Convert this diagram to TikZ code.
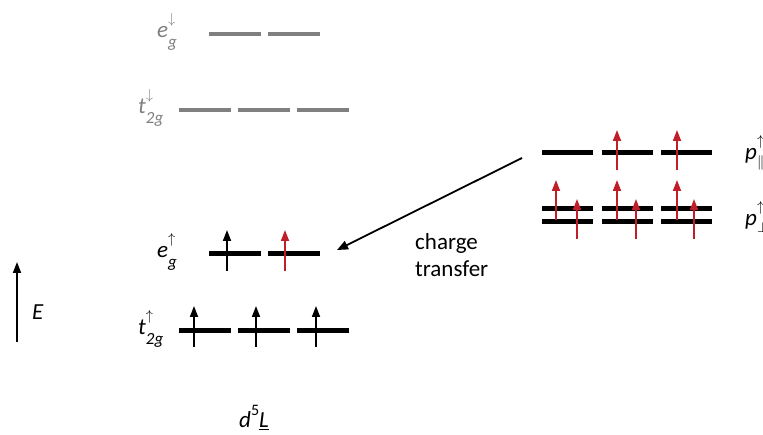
\documentclass[tikz,border=0pt]{standalone}
\usepackage{fontspec}
\setmainfont{Carlito}
\usetikzlibrary{arrows.meta}
\definecolor{lvlgray}{RGB}{128,128,128}
\definecolor{spinred}{RGB}{192,30,40}
\newcommand\mylbl[3]{\textit{#1}\makebox[0pt][l]{\raisebox{-0.42em}{\fontsize{17}{17}\selectfont\textit{#2}}}\makebox[0pt][l]{\raisebox{0.62em}{\fontsize{15}{15}\selectfont$#3$}}}
\begin{document}
\begin{tikzpicture}[x=1pt,y=-1pt,
  lvl/.style={line width=5pt},
  lvlg/.style={line width=4pt, draw=lvlgray},
  spin/.style={-{Triangle[length=11pt,width=8pt]}, line width=1.7pt},
  rspin/.style={spin, draw=spinred, fill=spinred},
  txt/.style={font=\fontsize{23}{27}\selectfont, inner sep=0pt},
]
\useasboundingbox (0,0) rectangle (763,435);
\fill[white] (0,0) rectangle (763,435);

% minority levels (gray)
\draw[lvlg] (209,34) -- (261,34);
\draw[lvlg] (268,34) -- (320,34);
\draw[lvlg] (179,110) -- (231,110);
\draw[lvlg] (238,110) -- (290,110);
\draw[lvlg] (297,110) -- (349,110);
\node[txt, text=lvlgray, anchor=base west] (egd) at (157,38) {\mylbl{e}{g}{\downarrow}};
\node[txt, text=lvlgray, anchor=base west] (tgd) at (138,114) {\mylbl{t}{2g}{\downarrow}};

% majority levels
\draw[lvl] (209,254) -- (261,254);
\draw[lvl] (268,254) -- (320,254);
\draw[lvl] (179,331) -- (231,331);
\draw[lvl] (238,331) -- (290,331);
\draw[lvl] (297,331) -- (349,331);
\node[txt, anchor=base west] (egu) at (157,258) {\mylbl{e}{g}{\uparrow}};
\node[txt, anchor=base west] (tgu) at (138,335) {\mylbl{t}{2g}{\uparrow}};

% electrons d
\draw[spin] (227,271) -- (227,230);
\draw[rspin] (285,271) -- (285,230);
\draw[spin] (194,347) -- (194,306);
\draw[spin] (256,347) -- (256,306);
\draw[spin] (316,347) -- (316,306);

% ligand levels
\draw[lvl] (542,153) -- (593,153);
\draw[lvl] (602,153) -- (653,153);
\draw[lvl] (661,153) -- (712,153);
\draw[lvl] (542,209) -- (593,209);
\draw[lvl] (602,209) -- (653,209);
\draw[lvl] (661,209) -- (712,209);
\draw[lvl] (542,222) -- (593,222);
\draw[lvl] (602,222) -- (653,222);
\draw[lvl] (661,222) -- (712,222);

\draw[rspin] (617,170) -- (617,130);
\draw[rspin] (677,170) -- (677,130);
\draw[rspin] (556,220) -- (556,180);
\draw[rspin] (577,239) -- (577,199);
\draw[rspin] (617,220) -- (617,180);
\draw[rspin] (636,239) -- (636,199);
\draw[rspin] (677,220) -- (677,180);
\draw[rspin] (694,239) -- (694,199);

\node[txt, anchor=base west] (ppar) at (745,160) {\textit{p}\makebox[0pt][l]{\raisebox{-0.3em}{\fontsize{14}{14}\selectfont$\parallel$}}\makebox[0pt][l]{\raisebox{0.62em}{\fontsize{15}{15}\selectfont$\uparrow$}}};
\node[txt, anchor=base west] (pperp) at (745,226) {\textit{p}\makebox[0pt][l]{\raisebox{-0.3em}{\fontsize{14}{14}\selectfont$\perp$}}\makebox[0pt][l]{\raisebox{0.62em}{\fontsize{15}{15}\selectfont$\uparrow$}}};

% charge transfer
\coordinate (ctA) at (522,158);
\coordinate (ctB) at (337,250);
\draw[-{Triangle[length=11pt,width=9pt]}, line width=1.8pt] (ctA) -- (ctB);
\node[txt, align=left, anchor=north west] (ct) at (415,233) {charge\\transfer};

% energy axis
\coordinate (eA) at (17,342);
\coordinate (eB) at (17,262);
\draw[-{Triangle[length=11pt,width=8pt]}, line width=1.8pt] (eA) -- (eB);
\node[txt, anchor=west] (E) at (32,312) {\textit{E}};

% configuration
\node[txt, anchor=base west] (cfg) at (239,428) {\textit{d}\raisebox{0.55em}{\fontsize{16}{16}\selectfont 5}\underline{\textit{L}}};
\end{tikzpicture}
\end{document}
